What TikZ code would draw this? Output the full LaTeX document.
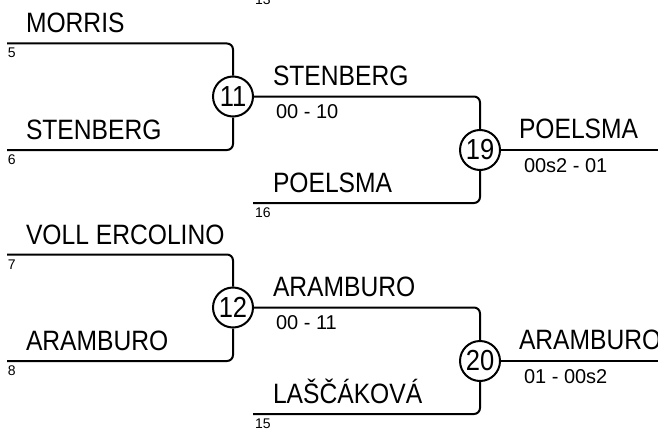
\documentclass[tikz,border=0pt]{standalone}
\usepackage{fontspec}
\setmainfont{Liberation Sans}
\newfontfamily\tallfont[FakeStretch=0.88]{Liberation Sans}
\begin{document}
\begin{tikzpicture}[yscale=-1,x=1pt,y=1pt,line width=2pt,
    player/.style={anchor=base west,inner sep=0pt,
            font=\tallfont\fontsize{28}{28}\selectfont},
    seed/.style={anchor=base west,inner sep=0pt,
            font=\fontsize{14}{14}\selectfont},
    score/.style={anchor=base west,inner sep=0pt,
            font=\fontsize{20}{20}\selectfont},
    match/.style={circle,draw,minimum size=40pt,inner sep=0pt,
            font=\tallfont\fontsize{29}{29}\selectfont},
    bracket/.style={rounded corners=6pt}]
  \useasboundingbox (0,0) rectangle (658,428);
  % seed line above, out of view
  \node[seed] (t13) at (254,5) {13};
  % upper half
  \coordinate (s5) at (7,43.5);
  \coordinate (s6) at (7,150);
  \coordinate (s16) at (253,203);
  \node[match] (m11) at (233,96.5) {11};
  \node[match] (m19) at (480,150) {19};
  \coordinate (w19) at (670,150);
  \draw[bracket] (s5) -| (m11);
  \draw[bracket] (s6) -| (m11);
  \draw[bracket] (m11) -| (m19);
  \draw[bracket] (s16) -| (m19);
  \draw (m19) -- (w19);
  \node[player] (n5) at (25,33) {MORRIS};
  \node[seed] (t5) at (7,58) {5};
  \node[player] (n6) at (25,139.5) {STENBERG};
  \node[seed] (t6) at (7,164) {6};
  \node[player] (n11) at (272,85) {STENBERG};
  \node[score] (r11) at (275,118) {00 - 10};
  \node[player] (n16) at (272,192) {POELSMA};
  \node[seed] (t16) at (254,217) {16};
  \node[player] (n19) at (518,138) {POELSMA};
  \node[score] (r19) at (523,172) {00s2 - 01};
  % lower half
  \begin{scope}[shift={(0,211)}]
  \coordinate (s7) at (7,43.5);
  \coordinate (s8) at (7,150);
  \coordinate (s15) at (253,203);
  \node[match] (m12) at (233,96.5) {12};
  \node[match] (m20) at (480,150) {20};
  \coordinate (w20) at (670,150);
  \draw[bracket] (s7) -| (m12);
  \draw[bracket] (s8) -| (m12);
  \draw[bracket] (m12) -| (m20);
  \draw[bracket] (s15) -| (m20);
  \draw (m20) -- (w20);
  \node[player] (n7) at (25,33) {VOLL ERCOLINO};
  \node[seed] (t7) at (7,58) {7};
  \node[player] (n8) at (25,139.5) {ARAMBURO};
  \node[seed] (t8) at (7,164) {8};
  \node[player] (n12) at (272,85) {ARAMBURO};
  \node[score] (r12) at (275,118) {00 - 11};
  \node[player] (n15) at (272,192) {LAŠČÁKOVÁ};
  \node[seed] (t15) at (254,217) {15};
  \node[player] (n20) at (518,138) {ARAMBURO};
  \node[score] (r20) at (523,172) {01 - 00s2};
  \end{scope}
\end{tikzpicture}
\end{document}
